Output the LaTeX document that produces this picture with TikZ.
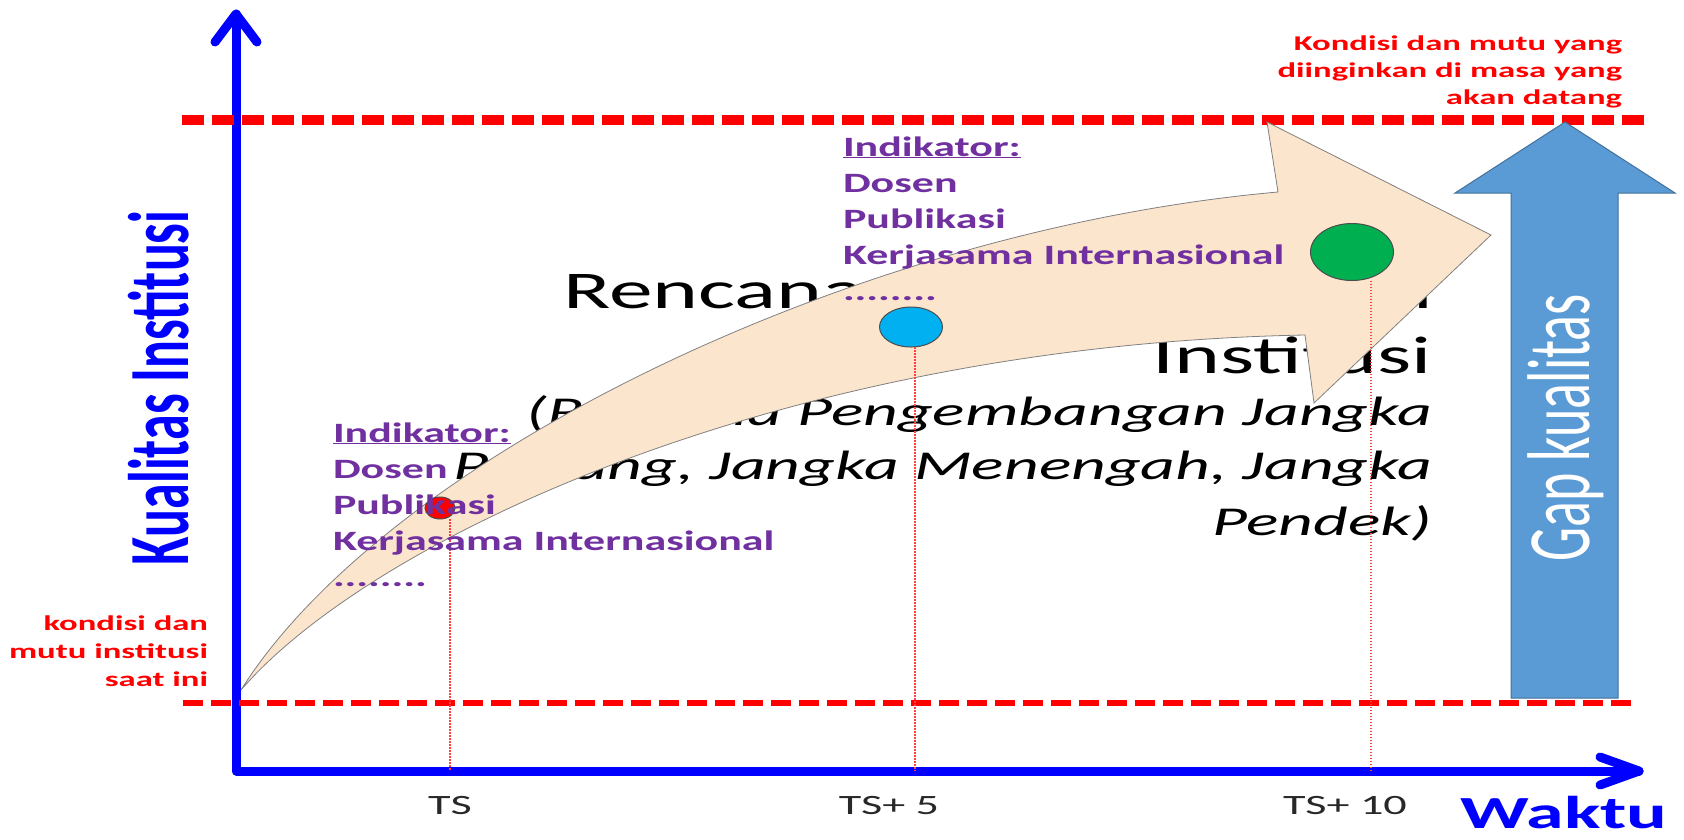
\documentclass[tikz,border=0pt]{standalone}
\usepackage{fontspec}
\setmainfont{Carlito}
\usetikzlibrary{shapes.geometric}
\definecolor{axisblue}{RGB}{0,0,255}
\definecolor{pur}{RGB}{112,48,160}
\definecolor{peach}{RGB}{252,229,205}
\definecolor{gapblue}{RGB}{91,155,213}
\definecolor{gapedge}{RGB}{65,113,156}
\definecolor{cblue}{RGB}{0,176,240}
\definecolor{cgreen}{RGB}{0,176,80}
\definecolor{tsgray}{RGB}{40,40,40}
\newcommand{\sx}[1]{\scalebox{1.65}[1]{#1}}
\newcommand{\sxi}[1]{\scalebox{1.57}[1]{#1}}
\begin{document}
\begin{tikzpicture}[x=1pt,y=-1pt,
  every node/.style={inner sep=0pt, outer sep=0pt},
  axisline/.style={axisblue, line width=9pt, line join=round, line cap=round},
  dashtop/.style={red, line width=10pt, dash pattern=on 22pt off 8pt},
  dashbot/.style={red, line width=6pt, dash pattern=on 20pt off 8pt},
  dotline/.style={red!75, line width=1.5pt, dash pattern=on 1.5pt off 1.5pt},
  bigtext/.style={font=\fontsize{53}{60}\selectfont, text=black},
  ittext/.style={font=\fontsize{41}{50}\selectfont\itshape, text=black},
  indtext/.style={font=\fontsize{28}{36}\selectfont\bfseries, text=pur},
  redtext/.style={font=\fontsize{21}{27}\selectfont\bfseries, text=red},
  tslabel/.style={font=\fontsize{28}{30}\selectfont, text=tsgray},
  dot/.style={ellipse, draw=black!70, line width=1pt},
]
\useasboundingbox (0,0) rectangle (1684,839);

% axes
\coordinate (O) at (236,771);
\coordinate (ytip) at (236,14);
\coordinate (xtip) at (1639,771);
\draw[axisline] (ytip) -- (O) -- (xtip);
\draw[axisline] (215,42) -- (ytip) -- (257,42);
\draw[axisline] (1600,757) -- (xtip) -- (1600,785);

% dashed levels
\coordinate (topL) at (182,120);
\coordinate (topR) at (1644,120);
\coordinate (botL) at (183,703);
\coordinate (botR) at (1635,703);
\draw[dashtop] (topL) -- (topR);
\draw[dashbot] (botL) -- (botR);

% central text (partly hidden by the arrow)
\node[bigtext, anchor=base east] (c1) at (1432,308) {\sx{Rencana Pengembangan}};
\node[bigtext, anchor=base east] (c2) at (1432,373) {\sx{Institusi}};
\node[ittext, anchor=base east] (c3) at (1432,425) {\sx{(Rencana Pengembangan Jangka}};
\node[ittext, anchor=base east] (c4) at (1432,479) {\sx{Panjang, Jangka Menengah, Jangka}};
\node[ittext, anchor=base east] (c5) at (1432,535) {\sx{Pendek)}};

% big curved arrow
\filldraw[fill=peach, draw=gray, line width=0.8pt]
  (241,690) .. controls (385,460) and (850,230) .. (1278,192)
  -- (1267,122) -- (1491,235) -- (1314,403) -- (1305,335)
  .. controls (780,345) and (370,540) .. (241,690) -- cycle;

% gap arrow
\filldraw[fill=gapblue, draw=gapedge, line width=1pt]
  (1511,698) -- (1511,193) -- (1455,193) -- (1565,122) -- (1675,193)
  -- (1618,193) -- (1618,698) -- cycle;
\node[font=\fontsize{54}{60}\selectfont, text=white] (gap) at (1566,428)
  {\scalebox{1.65}[1]{\rotatebox{90}{Gap kualitas}}};

% milestone dots
\node[dot, fill=red, minimum width=30pt, minimum height=22pt] (cred) at (440,508) {};
\node[dot, fill=cblue, minimum width=63pt, minimum height=40pt] (cblu) at (911,327) {};
\node[dot, fill=cgreen, minimum width=83pt, minimum height=57pt] (cgrn) at (1352,252) {};

\coordinate (k1) at (450,771);
\coordinate (k2) at (915,771);
\coordinate (k3) at (1371,771);
\draw[dotline] (k1 |- cred.south) -- (k1);
\draw[dotline] (k2 |- cblu.south) -- (k2);
\draw[dotline] (k3 |- cgrn.south) -- (k3);

% indicator blocks
\node[indtext, anchor=base west] (ind1) at (333,442)
  {\sxi{\begin{tabular}[t]{@{}l@{}}\underline{Indikator:}\\ Dosen\\ Publikasi\\ Kerjasama Internasional\\ ........\end{tabular}}};
\node[indtext, anchor=base west] (ind2) at (843,156)
  {\sxi{\begin{tabular}[t]{@{}l@{}}\underline{Indikator:}\\ Dosen\\ Publikasi\\ Kerjasama Internasional\\ ........\end{tabular}}};

% red notes
\node[redtext, anchor=base east] (future) at (1622,50)
  {\sx{\begin{tabular}[t]{@{}r@{}}Kondisi dan mutu yang\\ diinginkan di masa yang\\ akan datang\end{tabular}}};
\node[redtext, font=\fontsize{21}{28}\selectfont\bfseries, anchor=base east] (now) at (208,630)
  {\sx{\begin{tabular}[t]{@{}r@{}}kondisi dan\\ mutu institusi\\ saat ini\end{tabular}}};

% axis labels
\node[font=\fontsize{52}{60}\selectfont\bfseries, text=axisblue] (ylab) at (159,388)
  {\scalebox{1.65}[1]{\rotatebox{90}{Kualitas Institusi}}};
\node[font=\fontsize{46}{50}\selectfont\bfseries, text=axisblue] (xlab) at (1564,813) {\sx{Waktu}};
\node[tslabel] (ts0) at (450,805) {\sx{TS}};
\node[tslabel] (ts5) at (889,805) {\sx{TS+ 5}};
\node[tslabel] (ts10) at (1345,805) {\sx{TS+ 10}};
\end{tikzpicture}
\end{document}
